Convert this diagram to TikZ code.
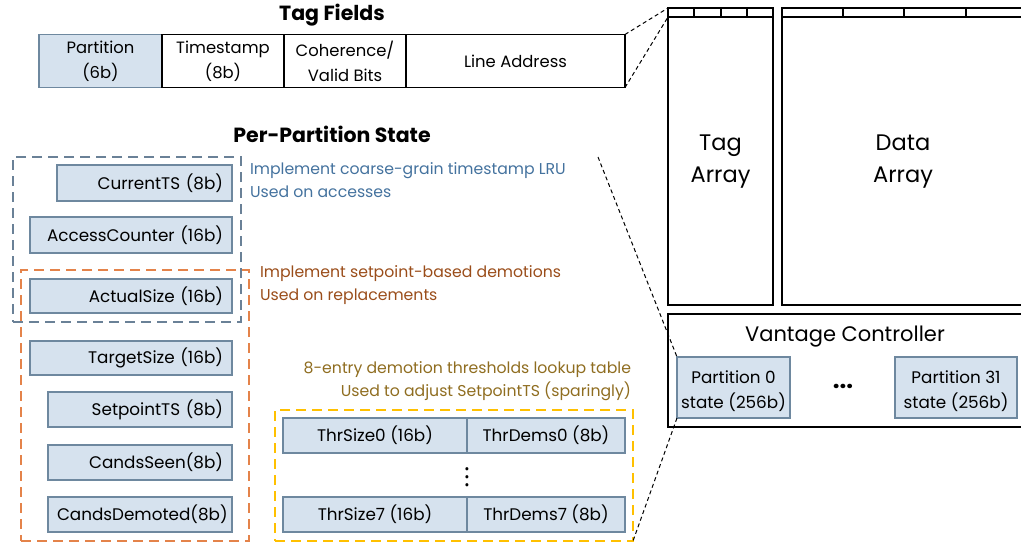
\documentclass[tikz,border=0pt]{standalone}
\usepackage{fontspec}
\setmainfont{Poppins}
\definecolor{boxfill}{HTML}{D6E2EE}
\definecolor{boxline}{HTML}{6E889F}
\definecolor{bluedash}{HTML}{6A8197}
\definecolor{bluetext}{HTML}{44729E}
\definecolor{orangedash}{HTML}{E4834A}
\definecolor{browntext}{HTML}{9A4D1A}
\definecolor{goldtext}{HTML}{8F6D20}
\definecolor{yellowdash}{HTML}{FFC000}
\tikzset{
  every node/.style={inner sep=0pt, outer sep=0pt},
  pbox/.style={draw=boxline, fill=boxfill, line width=1.8pt, font=\fontsize{16.8}{25}\selectfont},
  rbox/.style={pbox, align=right},
  wbox/.style={draw=black, fill=white, line width=1.5pt, align=center, font=\fontsize{16.4}{25}\selectfont},
  arr/.style={draw=black, line width=2pt},
  grp/.style={line width=2.6pt, dash pattern=on 10pt off 6pt},
  conn/.style={draw=black, line width=1pt, dash pattern=on 4pt off 3pt},
  note/.style={font=\fontsize{15.7}{23}\selectfont},
  ttl/.style={font=\fontsize{20.5}{24}\selectfont\bfseries},
  big/.style={font=\fontsize{22.5}{32}\selectfont, align=center},
  ptxt/.style={font=\fontsize{16.8}{25}\selectfont, align=center}
}
\begin{document}
\begin{tikzpicture}[x=1pt,y=-1pt]
\useasboundingbox (0,0) rectangle (1021,543);
\clip (0,0) rectangle (1021,543);
% Tag fields
\node[ttl] (tftitle) at (332,15) {Tag Fields};
\node[wbox, fill=boxfill, draw=boxline, minimum width=123pt, minimum height=53pt] (tfpart) at (100.5,61) {Partition\\(6b)};
\node[wbox, minimum width=122pt, minimum height=53pt] (tfts) at (223,61) {Timestamp\\(8b)};
\node[wbox, minimum width=122pt, minimum height=53pt] (tfcoh) at (345,61) {Coherence/\\Valid Bits};
\node[wbox, minimum width=219pt, minimum height=53pt] (tfaddr) at (515.5,61) {Line Address};
% Tag array
\node[arr, minimum width=105pt, minimum height=297pt] (tagarr) at (720.5,156.5) {};
\node[big] (tagtxt) at (720.5,162) {Tag\\Array};
\draw[line width=1.5pt] (668,17) -- (773,17);
\foreach \x in {694,721,747} \draw[line width=1.5pt] (\x,8) -- (\x,17);
\coordinate (tagstrip) at (668,17);
% Data array
\node[arr, minimum width=242pt, minimum height=297pt] (datarr) at (903,156.5) {};
\node[big] (datatxt) at (903,162) {Data\\Array};
\draw[line width=1.5pt] (782,17) -- (1024,17);
\foreach \x in {843,904,966} \draw[line width=1.5pt] (\x,8) -- (\x,17);
% Vantage controller
\node[arr, minimum width=362pt, minimum height=113pt] (vant) at (849,370.5) {};
\node[font=\fontsize{21}{24}\selectfont] (vtitle) at (845,337) {Vantage Controller};
\node[pbox, minimum width=113pt, minimum height=61pt] (p0) at (733.5,387.5) {};
\node[ptxt] (p0txt) at (733.5,391) {Partition 0\\state (256b)};
\node[pbox, minimum width=122pt, minimum height=61pt] (p31) at (956,387.5) {};
\node[ptxt] (p31txt) at (956,391) {Partition 31\\state (256b)};
\node[font=\fontsize{24}{26}\selectfont\bfseries] (hdots) at (843,386) {...};
% Per-partition state
\node[ttl] (pptitle) at (332,134) {Per-Partition State};
\node[rbox, text width=157pt, inner xsep=9pt, minimum height=36pt] (curts) at (144.5,183) {CurrentTS (8b)};
\node[rbox, text width=184pt, inner xsep=9pt, minimum height=36pt] (acc) at (131,235) {AccessCounter (16b)};
\node[rbox, text width=184pt, inner xsep=9pt, minimum height=34pt] (act) at (131,296) {ActualSize (16b)};
\node[rbox, text width=184pt, inner xsep=9pt, minimum height=34pt] (tgt) at (131,358) {TargetSize (16b)};
\node[rbox, text width=166pt, inner xsep=9pt, minimum height=35pt] (spts) at (140,409.5) {SetpointTS (8b)};
\node[rbox, text width=166pt, inner xsep=9pt, minimum height=35pt] (cseen) at (140,462.5) {CandsSeen(8b)};
\node[rbox, text width=166pt, inner xsep=9pt, minimum height=35pt] (cdem) at (140,514.5) {CandsDemoted(8b)};
% group boxes
\node[grp, draw=bluedash, minimum width=228pt, minimum height=165pt] (gblue) at (127,239.5) {};
\node[grp, draw=orangedash, minimum width=228pt, minimum height=271pt] (gorange) at (135,405.5) {};
\node[note, text=bluetext, anchor=west, align=left] (nblue) at (250,180.5) {Implement coarse-grain timestamp LRU\\Used on accesses};
\node[note, text=browntext, anchor=west, align=left] (norange) at (260,285.5) {Implement setpoint-based demotions\\Used on replacements};
\node[note, text=goldtext, anchor=east, align=right] (ngold) at (631,381.5) {8-entry demotion thresholds lookup table\\Used to adjust SetpointTS (sparingly)};
% threshold table
\node[pbox, minimum width=184pt, minimum height=35pt] (ts0) at (375,435.5) {ThrSize0 (16b)};
\node[pbox, minimum width=158pt, minimum height=35pt] (td0) at (546,435.5) {ThrDems0 (8b)};
\node[pbox, minimum width=184pt, minimum height=35pt] (ts7) at (375,514.5) {ThrSize7 (16b)};
\node[pbox, minimum width=158pt, minimum height=35pt] (td7) at (546,514.5) {ThrDems7 (8b)};
\node[font=\fontsize{16}{18}\selectfont\bfseries, rotate=90] (vd) at (467,477) {.\kern3.5pt.\kern3.5pt.};
\node[grp, draw=yellowdash, minimum width=358pt, minimum height=131pt] (gyellow) at (454,475.5) {};
% connectors
\coordinate (ppsrc) at (598,157);
\draw[conn] (tfaddr.north east) -- (tagarr.north west);
\draw[conn] (tfaddr.south east) -- (tagstrip);
\draw[conn] (ppsrc) -- (p0.north west);
\draw[conn] (p0.south west) -- (gyellow.south east);
\end{tikzpicture}
\end{document}
